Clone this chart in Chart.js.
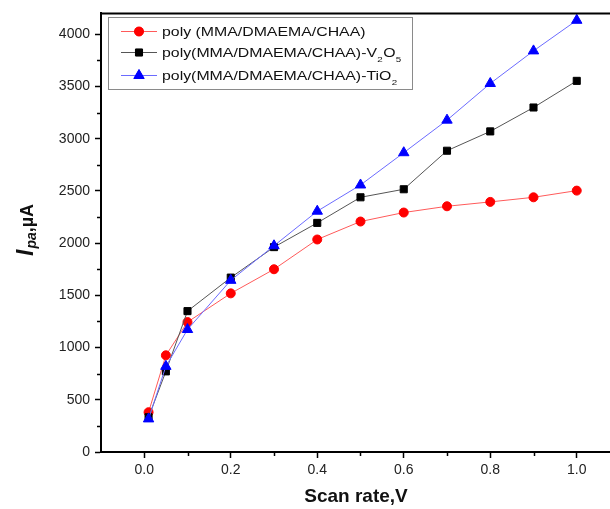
<!DOCTYPE html>
<html><head><meta charset="utf-8">
<script src="https://cdn.jsdelivr.net/npm/chart.js@4.4.1/dist/chart.umd.min.js"></script>
<style>
html,body{margin:0;padding:0;background:#fff;overflow:hidden;width:610px;height:509px}
#wrap{position:absolute;left:0;top:0;width:650px;height:509px}
</style>
</head><body><div id="wrap"><canvas id="c" width="650" height="509"></canvas></div>
<script>
// ---- data ----
const scanRates = [0.01, 0.05, 0.1, 0.2, 0.3, 0.4, 0.5, 0.6, 0.7, 0.8, 0.9, 1.0];
const polyValues = [381, 926, 1244, 1519, 1750, 2035, 2207, 2293, 2353, 2395, 2439, 2503];
const v2o5Values = [333, 772, 1349, 1670, 1962, 2194, 2439, 2516, 2885, 3070, 3299, 3554];
const tio2Values = [317, 820, 1173, 1644, 1975, 2306, 2557, 2866, 3178, 3529, 3841, 4134];
const xTickValues = [0, 0.2, 0.4, 0.6, 0.8, 1.0];
const xMinorValues = [0.1, 0.3, 0.5, 0.7, 0.9];
const yTickValues = [0, 500, 1000, 1500, 2000, 2500, 3000, 3500, 4000];
const yMinorValues = [250, 750, 1250, 1750, 2250, 2750, 3250, 3750];
// legend labels as [text, isSubscript] segments
const polyLabel = [['poly (MMA/DMAEMA/CHAA)', false]];
const v2o5Label = [['poly(MMA/DMAEMA/CHAA)-V', false], ['2', true], ['O', false], ['5', true]];
const tio2Label = [['poly(MMA/DMAEMA/CHAA)-TiO', false], ['2', true]];
const xTitle = 'Scan rate,V';

const toPts = (vals) => vals.map((v, i) => ({x: scanRates[i], y: v}));

const FONT = '"Liberation Sans", Arial, sans-serif';

const decor = {
  id: 'decor',
  afterDraw(chart) {
    const ctx = chart.ctx, ca = chart.chartArea;
    const xs = chart.scales.x, ys = chart.scales.y;
    ctx.save();
    // top border
    ctx.strokeStyle = '#000'; ctx.lineWidth = 2;
    ctx.beginPath(); ctx.moveTo(ca.left - 1, ca.top); ctx.lineTo(ca.right + 1, ca.top); ctx.stroke();
    // minor ticks
    ctx.lineWidth = 1.5;
    xMinorValues.forEach(v => {
      const px = Math.round(xs.getPixelForValue(v)) + 0.5;
      ctx.beginPath(); ctx.moveTo(px, ca.bottom); ctx.lineTo(px, ca.bottom + 4); ctx.stroke();
    });
    yMinorValues.forEach(v => {
      const py = Math.round(ys.getPixelForValue(v)) + 0.5;
      ctx.beginPath(); ctx.moveTo(ca.left, py); ctx.lineTo(ca.left - 4, py); ctx.stroke();
    });
    // legend
    const bx = 108.5, by = 17.5, bw = 304, bh = 72;
    ctx.fillStyle = '#fff'; ctx.fillRect(bx, by, bw, bh);
    ctx.strokeStyle = '#8a8a8a'; ctx.lineWidth = 1;
    ctx.strokeRect(bx, by, bw, bh);
    const rows = [31.5, 52.5, 75.5];
    chart.data.datasets.forEach((ds, i) => {
      const y = rows[i];
      ctx.strokeStyle = ds.borderColor; ctx.lineWidth = 1;
      ctx.beginPath(); ctx.moveTo(121, y); ctx.lineTo(157, y); ctx.stroke();
      ctx.fillStyle = ds.pointBackgroundColor; ctx.strokeStyle = ds.pointBorderColor;
      Chart.helpers.drawPoint(ctx, {pointStyle: ds.pointStyle, radius: ds.pointRadius, rotation: 0, borderWidth: 1}, 139, y);
      ctx.fill();
      // text
      ctx.fillStyle = '#111'; ctx.textBaseline = 'middle'; ctx.textAlign = 'left';
      ctx.save();
      ctx.translate(162, y + 1);
      ctx.scale(1.22, 1);
      let cx = 0;
      ds.segs.forEach(([t, sub]) => {
        ctx.font = (sub ? '8px ' : '13px ') + FONT;
        ctx.fillText(t, cx, sub ? 6 : 0);
        cx += ctx.measureText(t).width + 0.3;
      });
      ctx.restore();
    });
    // x title
    ctx.fillStyle = '#111'; ctx.textAlign = 'center'; ctx.textBaseline = 'middle';
    ctx.font = 'bold 19px ' + FONT;
    ctx.fillText(xTitle, 356, 497);
    // y title
    ctx.save();
    ctx.translate(33, 256);
    ctx.rotate(-Math.PI / 2);
    ctx.textAlign = 'left'; ctx.textBaseline = 'alphabetic';
    let cx = 0;
    ctx.font = 'italic bold 23px ' + FONT;
    ctx.fillText('I', cx, 0); cx += ctx.measureText('I').width + 1;
    ctx.font = 'italic bold 14px ' + FONT;
    ctx.fillText('pa', cx, 3); cx += ctx.measureText('pa').width;
    ctx.font = 'bold 18px ' + FONT;
    ctx.fillText(',\u00B5A', cx, 0);
    ctx.restore();
    ctx.restore();
  }
};

new Chart(document.getElementById('c'), {
  type: 'line',
  data: {
    datasets: [
      {label: 'poly (MMA/DMAEMA/CHAA)', segs: polyLabel, data: toPts(polyValues), borderColor: '#ff5a5a', borderWidth: 1,
       pointStyle: 'circle', pointRadius: 4.5, pointBackgroundColor: '#ff0000', pointBorderColor: '#ff0000', order: 2},
      {label: 'poly(MMA/DMAEMA/CHAA)-V2O5', segs: v2o5Label, data: toPts(v2o5Values), borderColor: '#555555', borderWidth: 1,
       pointStyle: 'rect', pointRadius: 5, pointBackgroundColor: '#000000', pointBorderColor: '#000000', order: 1},
      {label: 'poly(MMA/DMAEMA/CHAA)-TiO2', segs: tio2Label, data: toPts(tio2Values), borderColor: '#6b6bff', borderWidth: 1,
       pointStyle: 'triangle', pointRadius: 6, pointBackgroundColor: '#0000ff', pointBorderColor: '#0000ff', order: 0}
    ]
  },
  options: {
    responsive: false, animation: false, devicePixelRatio: 1,
    layout: {padding: {top: 13, right: 30, left: 0, bottom: 0}},
    plugins: {legend: {display: false}, tooltip: {enabled: false}},
    elements: {line: {tension: 0}},
    scales: {
      x: {
        type: 'linear', min: -0.1, max: 1.1,
        afterBuildTicks: (s) => { s.ticks = xTickValues.map(v => ({value: v})); },
        afterFit: (s) => { s.height = 57; },
        ticks: {font: {family: FONT, size: 14}, color: '#222', padding: 4, callback: (v) => Number(v).toFixed(1), maxRotation: 0},
        grid: {drawOnChartArea: false, drawTicks: true, tickLength: 6, tickColor: '#000', tickWidth: 1.5},
        border: {color: '#000', width: 2}
      },
      y: {
        type: 'linear', min: 0, max: 4200,
        afterBuildTicks: (s) => { s.ticks = yTickValues.map(v => ({value: v})); },
        afterFit: (s) => { s.width = 101; },
        ticks: {font: {family: FONT, size: 14}, color: '#222', padding: 5, callback: (v) => String(v)},
        grid: {drawOnChartArea: false, drawTicks: true, tickLength: 6, tickColor: '#000', tickWidth: 1.5},
        border: {color: '#000', width: 2}
      }
    }
  },
  plugins: [decor]
});
</script>
</body></html>
